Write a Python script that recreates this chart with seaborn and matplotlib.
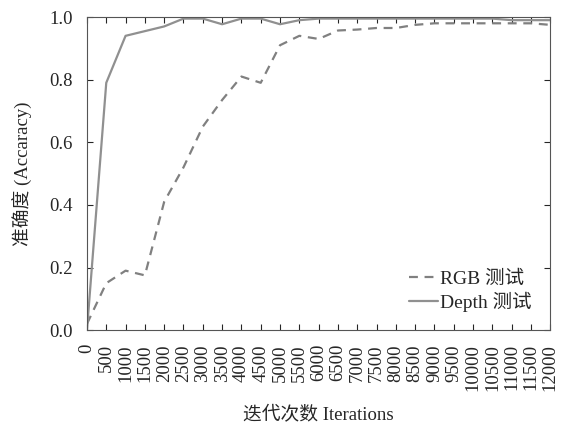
import numpy as np
import pandas as pd
import seaborn as sns
import matplotlib.pyplot as plt

# iterations on the x axis
iterations = list(range(0, 12001, 500))

# RGB test accuracy (dashed)
rgb_acc = [0.02, 0.15, 0.19, 0.175, 0.41, 0.52, 0.65, 0.735, 0.81, 0.79,
           0.91, 0.94, 0.93, 0.957, 0.96, 0.965, 0.965, 0.975, 0.98, 0.98,
           0.98, 0.98, 0.98, 0.98, 0.975]

# Depth test accuracy (solid)
depth_acc = [0.0, 0.79, 0.94, 0.955, 0.97, 0.995, 0.995, 0.977, 0.995, 0.995,
             0.977, 0.99, 0.995, 0.995, 0.995, 0.995, 0.995, 0.995, 0.995, 0.995,
             0.995, 0.995, 0.99, 0.99, 0.99]

series_names = ["RGB 测试", "Depth 测试"]

df = pd.DataFrame({
    "iter": iterations * 2,
    "acc": rgb_acc + depth_acc,
    "name": [series_names[0]] * len(iterations) + [series_names[1]] * len(iterations),
})

sns.set_style("ticks")
plt.rcParams['font.family'] = ['Liberation Serif', 'Noto Sans CJK SC']
plt.rcParams['font.size'] = 13.5

fig, ax = plt.subplots(figsize=(5.61, 4.26), dpi=100)
sns.lineplot(data=df, x="iter", y="acc", hue="name", style="name",
             palette=["#808080", "#909090"], dashes=[(4, 3), ""],
             linewidth=1.6, ax=ax)

ax.set_xlim(0, 12000)
ax.set_ylim(0, 1.0)
ax.set_xticks(iterations)
ax.set_xticklabels([str(i) for i in iterations], rotation=90)
ax.set_yticks([0.0, 0.2, 0.4, 0.6, 0.8, 1.0])
ax.tick_params(direction="in", top=True, right=True, labelsize=13.5, length=4)
ax.tick_params(axis="y", pad=10)
ax.tick_params(axis="x", pad=10)
ax.set_xlabel("迭代次数 Iterations", fontsize=13.5, labelpad=11)
ax.set_ylabel("准确度 (Accaracy)", fontsize=13.5, labelpad=12)
for s in ax.spines.values():
    s.set_color("#555555")

leg = ax.legend(loc="lower right", frameon=False, fontsize=14,
                handlelength=1.5, handletextpad=0.1, borderaxespad=0.55,
                labelspacing=0.2)

plt.subplots_adjust(left=0.155, right=0.981, top=0.96, bottom=0.225)
plt.savefig("out.png", dpi=100)
